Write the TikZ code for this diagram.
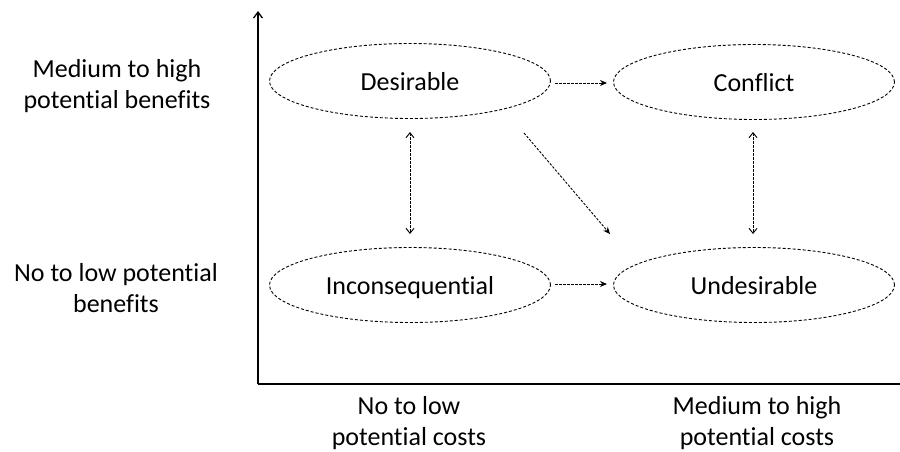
\documentclass[tikz,border=0pt]{standalone}
\usepackage{fontspec}
\setmainfont{Carlito}[Ligatures=NoCommon]
\usetikzlibrary{arrows.meta,shapes.geometric}
\begin{document}
\begin{tikzpicture}[x=1pt,y=-1pt,
  lbl/.style={align=center,font=\fontsize{26}{31.5}\selectfont,inner sep=0pt},
  oval/.style={ellipse,draw,dash pattern=on 3pt off 2pt,line width=0.9pt,minimum width=281pt,minimum height=75pt,inner sep=0pt,font=\fontsize{26}{30}\selectfont,text height=21.3pt,text depth=2.6pt},
  conn/.style={dash pattern=on 2.5pt off 1.5pt,line width=0.9pt},
  fill tip/.style={-{Stealth[length=7pt,width=6pt]}},
  open tips/.style={{Straight Barb[length=5pt,width=8pt]}-{Straight Barb[length=5pt,width=8pt]}}
]
\useasboundingbox (0,0) rectangle (900,451);
% axes
\coordinate (o) at (258,384);
\coordinate (ytop) at (258,11);
\coordinate (xend) at (900,384);
\draw[line width=1.3pt,-{Straight Barb[length=6pt,width=9pt]}] (o) -- (ytop);
\draw[line width=1.3pt] (o) -- (xend);
% axis labels
\node[lbl] (mhb) at (117,86) {Medium to high\\potential benefits};
\node[lbl] (nlb) at (116,288) {No to low potential\\benefits};
\node[lbl] (nlc) at (409,423) {No to low\\potential costs};
\node[lbl] (mhc) at (757,423) {Medium to high\\potential costs};
% ovals
\node[oval] (des) at (410,81) {Desirable};
\node[oval] (con) at (754,82) {Conflict};
\node[oval] (inc) at (410,285) {Inconsequential};
\node[oval] (und) at (754,285) {Undesirable};
% connectors
\coordinate (d1) at (555,83);
\coordinate (d2) at (607,83);
\draw[conn,fill tip] (d1) -- (d2);
\coordinate (i1) at (555,284);
\coordinate (i2) at (607,284);
\draw[conn,fill tip] (i1) -- (i2);
\coordinate (g1) at (524,133);
\coordinate (g2) at (610,234);
\draw[conn,fill tip] (g1) -- (g2);
\coordinate (v1) at (410,132);
\coordinate (v2) at (410,234);
\draw[conn,open tips] (v1) -- (v2);
\coordinate (w1) at (753,132);
\coordinate (w2) at (753,234);
\draw[conn,open tips] (w1) -- (w2);
\end{tikzpicture}
\end{document}
